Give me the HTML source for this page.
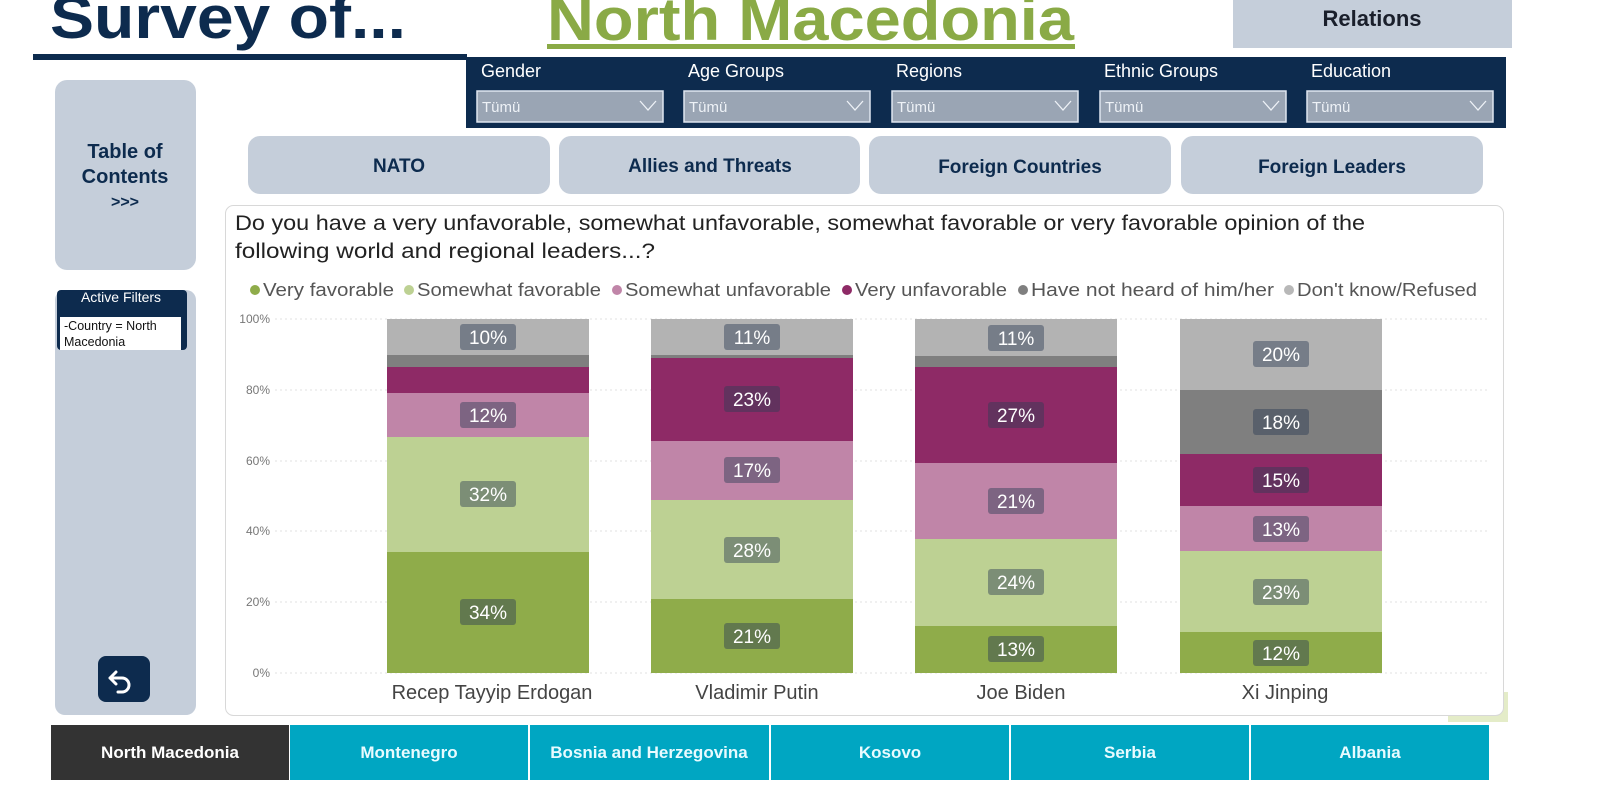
<!DOCTYPE html>
<html><head><meta charset="utf-8"><style>
html,body{margin:0;padding:0;background:#fff;overflow:hidden;width:1600px;height:807px;}
svg{display:block;font-family:"Liberation Sans",sans-serif;}
</style></head><body>
<svg width="1600" height="807" viewBox="0 0 1600 807" xmlns="http://www.w3.org/2000/svg">
<rect width="1600" height="807" fill="#fff"/>
<text x="50" y="38" font-size="60" font-weight="bold" fill="#0d2b4e" textLength="356" lengthAdjust="spacingAndGlyphs">Survey of...</text>
<rect x="33" y="54" width="434" height="6" fill="#0d2b4e"/>
<text x="547" y="40" font-size="60" font-weight="bold" fill="#8aaa46" textLength="527" lengthAdjust="spacingAndGlyphs">North Macedonia</text>
<rect x="547" y="44" width="528" height="5" fill="#8aaa46"/>
<rect x="1233" y="0" width="279" height="48" fill="#c5ceda"/>
<text x="1372" y="26" font-size="22" font-weight="bold" fill="#1a1f2b" text-anchor="middle">Relations</text>
<rect x="466" y="57" width="1040" height="71" fill="#0d2b4e"/>
<g font-size="18" fill="#fff">
<text x="481" y="77">Gender</text>
<text x="688" y="77">Age Groups</text>
<text x="896" y="77">Regions</text>
<text x="1104" y="77">Ethnic Groups</text>
<text x="1311" y="77">Education</text>
</g>
<g fill="#9aa5b4" stroke="#dfe6f0" stroke-width="1.5">
<rect x="477" y="91" width="186" height="31"/>
<rect x="684" y="91" width="186" height="31"/>
<rect x="892" y="91" width="186" height="31"/>
<rect x="1100" y="91" width="186" height="31"/>
<rect x="1307" y="91" width="186" height="31"/>
</g>
<g font-size="15" fill="#eef2f7">
<text x="482" y="112">Tümü</text><text x="689" y="112">Tümü</text><text x="897" y="112">Tümü</text><text x="1105" y="112">Tümü</text><text x="1312" y="112">Tümü</text>
</g>
<g fill="none" stroke="#eef2f7" stroke-width="1.3">
<path d="M640 101 l8 9 l8 -9"/><path d="M847 101 l8 9 l8 -9"/><path d="M1055 101 l8 9 l8 -9"/><path d="M1263 101 l8 9 l8 -9"/><path d="M1470 101 l8 9 l8 -9"/>
</g>
<rect x="55" y="80" width="141" height="190" rx="12" fill="#c5ceda"/>
<g font-size="20" font-weight="bold" fill="#0d2b4e" text-anchor="middle">
<text x="125" y="158">Table of</text><text x="125" y="183">Contents</text>
<text x="125" y="207" font-size="16">&gt;&gt;&gt;</text>
</g>
<rect x="55" y="290" width="141" height="425" rx="10" fill="#c5ceda"/>
<rect x="57" y="290" width="130" height="60" rx="4" fill="#0d2b4e"/>
<text x="121" y="302" font-size="14" fill="#fff" text-anchor="middle">Active Filters</text>
<rect x="60" y="317" width="121" height="33" fill="#fff"/>
<text x="64" y="330" font-size="12.5" fill="#111">-Country = North</text>
<text x="64" y="346" font-size="12.5" fill="#111">Macedonia</text>
<rect x="98" y="656" width="52" height="46" rx="8" fill="#0d2b4e"/>
<path d="M116 672 l-6 6 l6 6 M110 678 h12 a7 7 0 0 1 0 14 h-4" fill="none" stroke="#fff" stroke-width="3" stroke-linecap="round" stroke-linejoin="round"/>
<g fill="#c5ceda">
<rect x="248" y="136" width="302" height="58" rx="12"/>
<rect x="559" y="136" width="301" height="58" rx="12"/>
<rect x="869" y="136" width="302" height="58" rx="12"/>
<rect x="1181" y="136" width="302" height="58" rx="12"/>
</g>
<g font-size="19" font-weight="bold" fill="#0d2b4e" text-anchor="middle">
<text x="399" y="172">NATO</text>
<text x="710" y="172">Allies and Threats</text>
<text x="1020" y="173">Foreign Countries</text>
<text x="1332" y="173">Foreign Leaders</text>
</g>
<rect x="1448" y="692" width="60" height="30" fill="#e4ecc8"/>
<rect x="225.5" y="205.5" width="1278" height="510" rx="8" fill="#fff" stroke="#d8d8d8"/>
<g font-size="21" fill="#222">
<text x="235" y="230" textLength="1130" lengthAdjust="spacingAndGlyphs">Do you have a very unfavorable, somewhat unfavorable, somewhat favorable or very favorable opinion of the</text>
<text x="235" y="258" textLength="420" lengthAdjust="spacingAndGlyphs">following world and regional leaders...?</text>
</g>
<g font-size="18" fill="#555">
<circle cx="255" cy="290" r="5" fill="#8fac4a"/><text x="263" y="296" textLength="131" lengthAdjust="spacingAndGlyphs">Very favorable</text>
<circle cx="409" cy="290" r="5" fill="#bdd193"/><text x="417" y="296" textLength="184" lengthAdjust="spacingAndGlyphs">Somewhat favorable</text>
<circle cx="617" cy="290" r="5" fill="#c085a8"/><text x="625" y="296" textLength="206" lengthAdjust="spacingAndGlyphs">Somewhat unfavorable</text>
<circle cx="847" cy="290" r="5" fill="#8e2a66"/><text x="855" y="296" textLength="152" lengthAdjust="spacingAndGlyphs">Very unfavorable</text>
<circle cx="1023" cy="290" r="5" fill="#7f7f7f"/><text x="1031" y="296" textLength="243" lengthAdjust="spacingAndGlyphs">Have not heard of him/her</text>
<circle cx="1289" cy="290" r="5" fill="#b8b8b8"/><text x="1297" y="296" textLength="180" lengthAdjust="spacingAndGlyphs">Don't know/Refused</text>
</g>
<g stroke="#e2e2e2" stroke-dasharray="2 3">
<line x1="275" y1="319" x2="1490" y2="319"/><line x1="275" y1="390" x2="1490" y2="390"/>
<line x1="275" y1="461" x2="1490" y2="461"/><line x1="275" y1="531" x2="1490" y2="531"/>
<line x1="275" y1="602" x2="1490" y2="602"/><line x1="275" y1="673" x2="1490" y2="673"/>
</g>
<g font-size="12" fill="#777" text-anchor="end">
<text x="270" y="323">100%</text><text x="270" y="394">80%</text><text x="270" y="535">40%</text>
<text x="270" y="465">60%</text><text x="270" y="606">20%</text><text x="270" y="677">0%</text>
</g>
<g>
<rect x="387" y="319" width="202" height="36" fill="#b3b3b3"/>
<rect x="387" y="355" width="202" height="12" fill="#7f7f7f"/>
<rect x="387" y="367" width="202" height="26" fill="#8e2a66"/>
<rect x="387" y="393" width="202" height="44" fill="#c085a8"/>
<rect x="387" y="437" width="202" height="115" fill="#bdd193"/>
<rect x="387" y="552" width="202" height="121" fill="#8fac4a"/>
<rect x="651" y="319" width="202" height="36" fill="#b3b3b3"/>
<rect x="651" y="355" width="202" height="3" fill="#7f7f7f"/>
<rect x="651" y="358" width="202" height="83" fill="#8e2a66"/>
<rect x="651" y="441" width="202" height="59" fill="#c085a8"/>
<rect x="651" y="500" width="202" height="99" fill="#bdd193"/>
<rect x="651" y="599" width="202" height="74" fill="#8fac4a"/>
<rect x="915" y="319" width="202" height="37" fill="#b3b3b3"/>
<rect x="915" y="356" width="202" height="11" fill="#7f7f7f"/>
<rect x="915" y="367" width="202" height="96" fill="#8e2a66"/>
<rect x="915" y="463" width="202" height="76" fill="#c085a8"/>
<rect x="915" y="539" width="202" height="87" fill="#bdd193"/>
<rect x="915" y="626" width="202" height="47" fill="#8fac4a"/>
<rect x="1180" y="319" width="202" height="71" fill="#b3b3b3"/>
<rect x="1180" y="390" width="202" height="64" fill="#7f7f7f"/>
<rect x="1180" y="454" width="202" height="52" fill="#8e2a66"/>
<rect x="1180" y="506" width="202" height="45" fill="#c085a8"/>
<rect x="1180" y="551" width="202" height="81" fill="#bdd193"/>
<rect x="1180" y="632" width="202" height="41" fill="#8fac4a"/>
</g>
<g fill="rgba(45,60,85,0.45)">
<rect x="460" y="324" width="56" height="26" rx="3"/><rect x="460" y="402" width="56" height="26" rx="3"/>
<rect x="460" y="481" width="56" height="26" rx="3"/><rect x="460" y="599" width="56" height="26" rx="3"/>
<rect x="724" y="324" width="56" height="26" rx="3"/><rect x="724" y="386" width="56" height="26" rx="3"/>
<rect x="724" y="457" width="56" height="26" rx="3"/><rect x="724" y="537" width="56" height="26" rx="3"/>
<rect x="724" y="623" width="56" height="26" rx="3"/>
<rect x="988" y="325" width="56" height="26" rx="3"/><rect x="988" y="402" width="56" height="26" rx="3"/>
<rect x="988" y="488" width="56" height="26" rx="3"/><rect x="988" y="569" width="56" height="26" rx="3"/>
<rect x="988" y="636" width="56" height="26" rx="3"/>
<rect x="1253" y="341" width="56" height="26" rx="3"/><rect x="1253" y="409" width="56" height="26" rx="3"/>
<rect x="1253" y="467" width="56" height="26" rx="3"/><rect x="1253" y="516" width="56" height="26" rx="3"/>
<rect x="1253" y="579" width="56" height="26" rx="3"/><rect x="1253" y="640" width="56" height="26" rx="3"/>
</g>
<g font-size="19" fill="#fff" text-anchor="middle">
<text x="488" y="344">10%</text><text x="488" y="422">12%</text><text x="488" y="501">32%</text><text x="488" y="619">34%</text>
<text x="752" y="344">11%</text><text x="752" y="406">23%</text><text x="752" y="477">17%</text><text x="752" y="557">28%</text><text x="752" y="643">21%</text>
<text x="1016" y="345">11%</text><text x="1016" y="422">27%</text><text x="1016" y="508">21%</text><text x="1016" y="589">24%</text><text x="1016" y="656">13%</text>
<text x="1281" y="361">20%</text><text x="1281" y="429">18%</text><text x="1281" y="487">15%</text><text x="1281" y="536">13%</text><text x="1281" y="599">23%</text><text x="1281" y="660">12%</text>
</g>
<g font-size="20" fill="#444" text-anchor="middle">
<text x="492" y="699">Recep Tayyip Erdogan</text>
<text x="757" y="699">Vladimir Putin</text>
<text x="1021" y="699">Joe Biden</text>
<text x="1285" y="699">Xi Jinping</text>
</g>
<rect x="51" y="725" width="238" height="55" fill="#333"/>
<g fill="#00a6c2">
<rect x="290" y="725" width="238" height="55"/><rect x="530" y="725" width="239" height="55"/>
<rect x="771" y="725" width="238" height="55"/><rect x="1011" y="725" width="238" height="55"/>
<rect x="1251" y="725" width="238" height="55"/>
</g>
<g font-size="17" font-weight="bold" fill="#fff" text-anchor="middle">
<text x="170" y="758">North Macedonia</text>
<text x="409" y="758" fill="#e8fbff">Montenegro</text>
<text x="649" y="758" fill="#e8fbff">Bosnia and Herzegovina</text>
<text x="890" y="758" fill="#e8fbff">Kosovo</text>
<text x="1130" y="758" fill="#e8fbff">Serbia</text>
<text x="1370" y="758" fill="#e8fbff">Albania</text>
</g>
</svg>
</body></html>
